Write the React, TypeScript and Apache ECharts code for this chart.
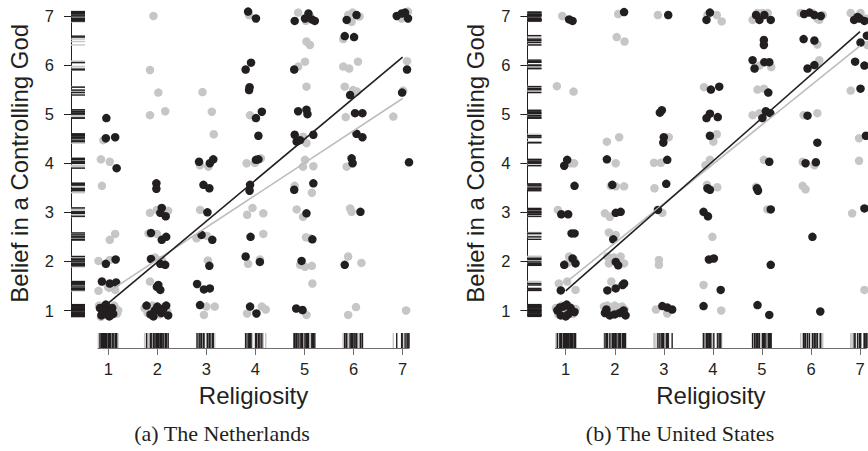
import React, { useEffect, useRef } from "react";
import * as echarts from "echarts";

// ---------- data ----------
const X_TICKS = [1, 2, 3, 4, 5, 6, 7];
const Y_TICKS = [1, 2, 3, 4, 5, 6, 7];
const X_NAME = "Religiosity";
const Y_NAME = "Belief in a Controlling God";
const CAPTIONS = ["(a) The Netherlands", "(b) The United States"];

const NL_BLACK: number[][] = [
  [0.96, 4.92], [0.95, 4.51], [1.14, 4.53], [1.17, 3.9], [0.95, 1.95], [1.15, 2.04], [0.87, 1.59], [1.03, 1.55], [1.16, 1.57],
  [0.83, 1.05], [0.88, 0.95], [0.92, 1.08], [0.97, 0.92], [1.0, 1.02], [1.04, 0.97], [0.86, 0.9], [0.95, 1.12], [1.08, 1.05], [1.02, 0.88], [0.9, 1.0], [1.1, 0.93],
  [1.98, 3.59], [1.98, 3.48], [2.09, 3.09], [2.17, 2.92], [2.06, 2.99], [1.87, 2.58], [2.09, 2.44], [2.18, 2.5], [1.87, 2.05], [2.06, 1.95], [2.16, 1.93], [2.02, 1.52], [2.06, 1.42], [1.99, 1.48],
  [1.78, 1.1], [1.86, 0.92], [1.95, 1.0], [2.0, 1.08], [2.08, 0.95], [2.12, 1.03], [2.22, 0.9], [1.92, 0.88], [2.18, 1.1],
  [2.85, 4.03], [3.07, 4.0], [3.14, 4.08], [2.94, 3.56], [3.06, 3.49], [3.02, 3.0], [2.9, 2.54], [3.12, 2.44], [3.06, 1.91], [2.81, 1.54], [2.95, 1.43], [3.07, 1.45], [2.87, 1.11],
  [3.85, 7.09], [4.01, 6.95], [3.8, 5.91], [3.91, 6.05], [3.87, 5.49], [3.88, 5.55], [4.01, 4.92], [4.13, 5.05], [4.06, 4.56], [4.01, 4.07], [4.06, 4.08], [3.89, 3.56], [3.88, 3.44], [3.9, 2.5], [3.8, 2.1], [4.09, 1.99], [3.89, 1.08], [4.02, 0.94],
  [4.8, 6.9], [5.08, 7.05], [5.15, 6.93], [5.21, 6.9], [5.01, 6.95], [4.79, 5.91], [4.87, 5.06], [5.04, 5.09], [5.06, 5.0], [4.8, 4.58], [4.84, 4.44], [4.91, 4.47], [5.18, 4.58], [4.79, 3.46], [5.18, 3.59], [5.04, 2.98], [5.16, 2.45], [4.94, 2.01], [4.83, 1.04], [4.96, 1.01],
  [5.86, 6.92], [6.06, 7.02], [5.82, 6.59], [6.01, 6.57], [5.93, 5.39], [6.03, 5.02], [6.18, 5.02], [6.06, 4.6], [6.18, 4.53], [5.96, 4.1], [5.98, 4.0], [6.14, 3.01], [5.82, 1.93],
  [6.88, 7.0], [6.98, 7.05], [7.11, 6.95], [7.05, 7.07], [7.09, 5.91], [6.99, 5.44], [7.13, 4.02],
];

const NL_GRAY: number[][] = [
  [0.9, 4.47], [0.85, 4.08], [1.03, 4.03], [0.87, 3.54], [1.14, 2.56], [1.03, 2.44], [0.8, 2.01], [1.03, 2.03], [0.8, 1.4], [1.14, 1.42], [1.0, 1.47],
  [0.81, 1.1], [1.15, 1.04], [1.18, 0.94], [1.12, 1.1], [0.85, 0.87], [1.06, 0.9], [1.2, 1.0],
  [1.92, 7.0], [1.85, 5.9], [2.02, 5.44], [1.85, 4.98], [2.16, 5.06], [1.85, 2.99], [1.99, 3.05], [2.22, 3.03], [1.82, 2.57], [1.99, 2.56], [1.95, 2.08], [2.09, 2.03], [1.85, 1.59],
  [1.74, 1.05], [1.8, 0.95], [1.9, 1.1], [2.05, 0.92], [2.15, 1.08], [1.85, 1.02], [2.2, 0.98],
  [2.92, 5.45], [3.11, 5.05], [3.15, 4.59], [2.87, 3.96], [3.04, 3.93], [2.87, 3.05], [2.8, 2.47], [3.01, 2.52], [3.03, 2.02], [3.0, 1.08], [3.17, 1.08], [2.95, 0.91],
  [3.87, 7.02], [3.89, 4.98], [3.82, 4.0], [4.11, 4.1], [3.99, 4.01], [3.83, 2.95], [3.94, 3.09], [4.16, 2.98], [4.16, 2.56], [3.85, 1.95], [4.09, 2.04], [3.83, 0.94], [4.13, 1.08], [4.21, 1.02],
  [4.87, 7.07], [5.11, 7.0], [5.03, 6.9], [5.04, 6.48], [5.11, 6.41], [4.87, 5.97], [5.01, 6.07], [5.04, 5.56], [4.97, 4.54], [5.04, 4.41], [5.01, 4.07], [4.97, 3.93], [5.18, 3.94],
  [4.8, 3.54], [5.15, 3.4], [4.84, 3.06], [4.97, 2.91], [5.03, 2.49], [5.12, 2.47], [4.91, 1.93], [5.01, 1.89], [5.15, 1.91], [5.16, 1.55], [5.04, 0.91],
  [5.89, 7.02], [5.96, 6.88], [6.12, 6.99], [5.98, 7.07], [5.79, 6.53], [5.79, 5.97], [5.91, 5.93], [6.09, 6.07], [5.82, 5.56], [5.99, 5.49], [6.07, 5.46], [5.84, 4.94], [5.86, 3.93],
  [5.93, 3.08], [5.96, 3.01], [5.89, 2.1], [6.16, 1.97], [5.89, 0.91], [6.05, 1.07],
  [7.11, 7.09], [6.98, 6.95], [7.09, 6.08], [7.01, 5.48], [6.81, 4.95], [7.07, 1.0],
];

const US_BLACK: number[][] = [
  [1.07, 6.93], [1.14, 6.9], [1.03, 4.07], [0.97, 3.95], [1.18, 3.54], [0.91, 2.96], [1.05, 2.96], [1.12, 2.57], [1.18, 2.57], [0.97, 1.93], [1.14, 2.06], [1.2, 1.96], [0.9, 1.41],
  [0.83, 1.0], [0.9, 0.9], [0.95, 1.08], [1.02, 1.12], [1.05, 0.92], [1.1, 1.05], [1.18, 0.97], [0.88, 1.06], [1.0, 0.88],
  [2.19, 7.08], [1.84, 4.08], [1.95, 3.56], [2.02, 2.99], [2.12, 3.01], [1.97, 2.45], [2.02, 1.99], [2.07, 1.92], [1.85, 1.41], [2.02, 1.45], [2.16, 1.52], [2.19, 1.55],
  [1.8, 0.95], [1.9, 0.9], [2.0, 0.92], [2.1, 0.95], [2.22, 0.9], [2.18, 1.0], [1.83, 1.02],
  [3.09, 7.02], [2.92, 5.03], [2.96, 5.08], [3.0, 4.53], [2.99, 4.42], [3.07, 4.07], [3.05, 3.58], [2.88, 3.05], [2.97, 1.09], [3.07, 1.06], [3.17, 1.02],
  [3.87, 6.92], [3.94, 7.07], [3.96, 5.5], [4.13, 5.56], [3.87, 4.92], [3.94, 5.01], [4.1, 4.94], [3.94, 4.56], [3.89, 3.49], [3.94, 3.46], [3.81, 3.01], [3.9, 2.92], [3.92, 2.04], [4.02, 2.06], [4.16, 1.42], [3.81, 1.09],
  [4.88, 7.02], [5.05, 7.02], [5.18, 6.92], [4.95, 6.92], [5.04, 6.51], [5.04, 6.41], [4.81, 6.1], [4.85, 5.93], [5.05, 6.06], [5.15, 6.06], [5.13, 5.44], [5.08, 5.06], [5.17, 5.02], [5.01, 4.92], [5.15, 4.03], [4.9, 3.49], [4.92, 3.44], [5.18, 3.06], [5.18, 1.93], [4.91, 1.11], [5.15, 0.91],
  [5.86, 7.04], [5.97, 7.07], [6.07, 7.02], [6.2, 7.0], [5.85, 6.53], [6.07, 6.5], [5.93, 5.93], [6.07, 6.0], [5.93, 4.97], [6.13, 4.42], [5.89, 4.0], [6.1, 4.02], [6.03, 2.5], [6.19, 0.98],
  [6.88, 6.92], [6.99, 6.95], [7.09, 6.9], [6.95, 6.98], [7.01, 6.46], [7.14, 6.6], [6.9, 6.07], [7.09, 5.99], [7.01, 5.52], [7.12, 4.56], [7.09, 3.08],
];

const US_GRAY: number[][] = [
  [0.93, 7.0], [0.82, 5.57], [1.16, 5.46], [1.1, 4.0], [1.17, 4.0], [0.84, 3.05], [1.07, 2.1], [1.17, 2.03], [1.03, 1.96], [0.86, 1.55], [1.03, 1.59], [1.2, 1.42],
  [0.8, 1.05], [0.85, 0.92], [0.92, 1.1], [1.0, 0.95], [1.08, 1.08], [1.15, 0.93], [1.2, 1.03], [0.96, 1.02], [1.12, 1.0],
  [2.07, 7.04], [2.04, 6.57], [2.2, 6.48], [1.84, 4.44], [2.09, 4.53], [2.02, 4.0], [1.92, 3.54], [2.02, 3.53], [2.19, 3.53], [1.8, 2.98], [1.9, 2.91], [1.88, 2.59], [2.02, 2.54],
  [1.85, 2.1], [1.98, 2.08], [2.12, 2.1], [2.19, 1.96], [1.88, 1.96], [2.05, 2.02], [1.93, 1.59],
  [1.78, 1.08], [1.85, 1.1], [1.93, 1.05], [2.0, 1.1], [2.08, 1.06], [2.15, 1.08], [1.88, 0.98], [2.05, 0.97], [2.2, 1.02], [1.97, 1.0],
  [2.88, 7.02], [3.1, 4.53], [2.8, 4.01], [2.94, 4.01], [2.81, 3.49], [2.97, 2.99], [2.9, 2.03], [2.9, 1.93], [2.84, 1.02], [3.07, 0.94],
  [4.08, 7.02], [4.18, 6.89], [3.89, 7.02], [3.82, 5.55], [4.08, 4.59], [4.01, 4.44], [3.85, 3.96], [3.94, 4.07], [4.09, 3.51], [3.88, 3.56], [3.99, 2.5], [3.81, 1.52], [4.17, 1.0],
  [4.81, 6.92], [5.12, 7.06], [5.01, 7.06], [4.91, 7.06], [4.95, 5.99], [5.19, 5.96], [4.91, 5.5], [5.04, 5.52], [4.81, 4.98], [4.95, 5.02], [5.01, 4.95], [5.04, 4.07], [4.88, 3.52], [5.11, 3.06],
  [5.79, 7.06], [6.03, 7.06], [6.13, 6.95], [6.24, 7.02], [6.17, 6.92], [6.13, 6.42], [6.17, 6.1], [6.12, 6.01], [5.85, 4.98], [6.13, 5.02], [5.83, 4.03], [6.07, 3.96], [5.83, 3.54], [5.89, 3.47],
  [6.81, 7.06], [7.01, 7.06], [7.12, 6.95], [7.15, 6.41], [6.81, 5.48], [6.98, 4.51], [6.98, 4.05], [6.84, 2.98], [7.09, 1.42],
];

// fitted regression lines (end points)
const NL_FIT_BLACK = [[1, 1.15], [7, 6.16]];
const NL_FIT_GRAY = [[1, 1.38], [7, 5.32]];
const US_FIT_BLACK = [[1, 1.4], [7, 6.68]];
const US_FIT_GRAY = [[1, 1.57], [7, 6.39]];

// ---------- styling ----------
const BLACK = "#231f20";
const GRAY = "#c6c6c6";
const TEXT = "#231f20";
const SANS = "'Liberation Sans', Arial, Helvetica, sans-serif";
const SERIF = "'Liberation Serif', 'Times New Roman', serif";
const X_MIN = 0.79;
const X_MAX = 7.13;

const PANELS = [
  { black: NL_BLACK, gray: NL_GRAY, fitB: NL_FIT_BLACK, fitG: NL_FIT_GRAY, left: 98, yOff: 27, capX: 222 },
  { black: US_BLACK, gray: US_GRAY, fitB: US_FIT_BLACK, fitG: US_FIT_GRAY, left: 555.4, yOff: 28, capX: 680 },
];

export default function App() {
  const ref = useRef<HTMLDivElement>(null);
  useEffect(() => {
    if (!ref.current) return;
    const chart = echarts.init(ref.current, null, { renderer: "svg" });
    const grid: any[] = [];
    const xAxis: any[] = [];
    const yAxis: any[] = [];
    const series: any[] = [];
    const graphic: any[] = [];

    PANELS.forEach((p, i) => {
      grid.push({ left: p.left, top: 16, width: 311, height: 294.5 });
      xAxis.push({
        type: "value", gridIndex: i, min: X_MIN, max: X_MAX, offset: 37.5,
        name: X_NAME, nameLocation: "middle", nameGap: 35,
        nameTextStyle: { fontFamily: SANS, fontSize: 24, color: TEXT },
        axisLine: { show: true, onZero: false, lineStyle: { color: "#6e6e6e", width: 1 } },
        axisTick: { show: true, length: 7, lineStyle: { color: "#6e6e6e" }, customValues: X_TICKS },
        axisLabel: { show: true, margin: 12, fontFamily: SANS, fontSize: 16.5, color: TEXT, customValues: X_TICKS },
        splitLine: { show: false },
      });
      yAxis.push({
        type: "value", gridIndex: i, min: 1, max: 7, offset: p.yOff,
        name: Y_NAME, nameLocation: "middle", nameGap: 40,
        nameTextStyle: { fontFamily: SANS, fontSize: 24, color: TEXT },
        axisLine: { show: true, onZero: false, lineStyle: { color: "#231f20", width: 1 } },
        axisTick: { show: true, length: 7, lineStyle: { color: "#231f20" }, customValues: Y_TICKS },
        axisLabel: { show: true, margin: 17, fontFamily: SANS, fontSize: 16.5, color: TEXT, customValues: Y_TICKS },
        splitLine: { show: false },
      });

      const rug = [
        ...p.gray.map((d) => [d[0], d[1], 0]),
        ...p.black.map((d) => [d[0], d[1], 1]),
      ];
      const yOff = p.yOff;
      series.push({
        type: "custom", xAxisIndex: i, yAxisIndex: i, clip: false, silent: true, z: 1,
        data: rug, encode: { x: 0, y: 1 },
        renderItem: (_params: any, api: any) => {
          const c = api.coord([api.value(0), 1]);
          return {
            type: "line",
            shape: { x1: c[0], y1: c[1] + 22.5, x2: c[0], y2: c[1] + 37.5 },
            style: { stroke: api.value(2) ? BLACK : GRAY, lineWidth: 1.4 },
          };
        },
      });
      series.push({
        type: "custom", xAxisIndex: i, yAxisIndex: i, clip: false, silent: true, z: 1,
        data: rug, encode: { x: 0, y: 1 },
        renderItem: (_params: any, api: any) => {
          const c = api.coord([X_MIN, api.value(1)]);
          return {
            type: "line",
            shape: { x1: c[0] - yOff, y1: c[1], x2: c[0] - yOff + 14, y2: c[1] },
            style: { stroke: api.value(2) ? BLACK : GRAY, lineWidth: 1.4 },
          };
        },
      });
      series.push({
        type: "scatter", xAxisIndex: i, yAxisIndex: i, clip: false, z: 2,
        data: p.gray, symbol: "circle", symbolSize: 8.5,
        itemStyle: { color: GRAY, opacity: 1 },
      });
      series.push({
        type: "scatter", xAxisIndex: i, yAxisIndex: i, clip: false, z: 3,
        data: p.black, symbol: "circle", symbolSize: 8.5,
        itemStyle: { color: BLACK, opacity: 1 },
      });
      series.push({
        type: "line", xAxisIndex: i, yAxisIndex: i, z: 4, data: p.fitG,
        showSymbol: false, symbol: "none", lineStyle: { color: "#bdbdbd", width: 1.6 },
      });
      series.push({
        type: "line", xAxisIndex: i, yAxisIndex: i, z: 5, data: p.fitB,
        showSymbol: false, symbol: "none", lineStyle: { color: BLACK, width: 1.6 },
      });
      graphic.push({
        type: "text", x: p.capX, y: 422,
        style: { text: CAPTIONS[i], font: `22px ${SERIF}`, fill: TEXT, textAlign: "center", textVerticalAlign: "top" },
      });
    });

    chart.setOption({
      animation: false,
      backgroundColor: "#ffffff",
      grid, xAxis, yAxis, series, graphic,
    });
    return () => chart.dispose();
  }, []);
  return (
    <div
      ref={ref}
      style={{ position: "absolute", left: 0, top: 0, width: 868, height: 451, background: "#fff" }}
    />
  );
}
